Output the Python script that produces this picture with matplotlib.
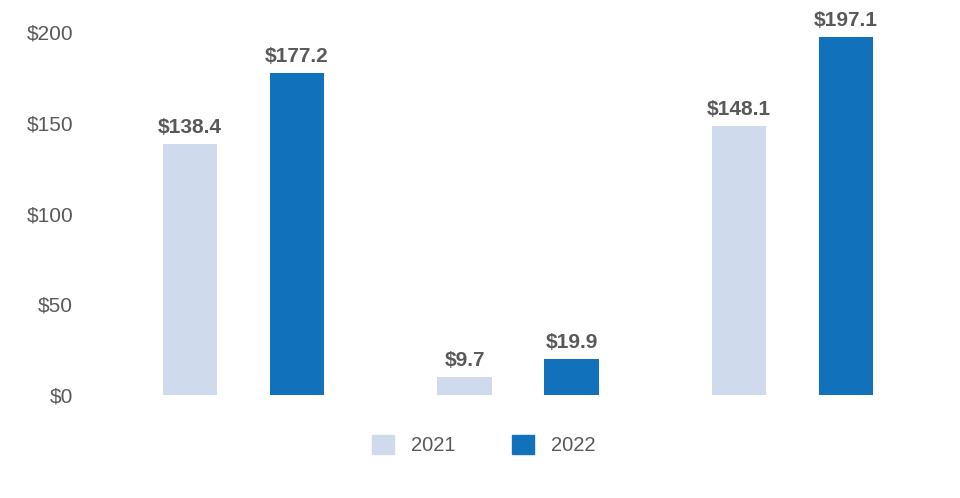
import numpy as np
import matplotlib.pyplot as plt
from matplotlib.patches import Patch

plt.rcParams['font.family'] = ['Liberation Sans', 'DejaVu Sans']

years = ['2021', '2022']
vals_2021 = [138.4, 9.7, 148.1]
vals_2022 = [177.2, 19.9, 197.1]
yticks = [0, 50, 100, 150, 200]

c_light = '#cfdaec'
c_dark = '#1172bb'
txt = '#595959'

fig = plt.figure(figsize=(9.6, 4.98), dpi=100)
ax = fig.add_axes([80/960, 103/498, 875/960, 363/498])

x = np.arange(len(vals_2021))
w = 0.197
off = 0.195
b1 = ax.bar(x - off, vals_2021, w, color=c_light)
b2 = ax.bar(x + off, vals_2022, w, color=c_dark)

# value labels above each bar
for bars, vals in [(b1, vals_2021), (b2, vals_2022)]:
    for r, v in zip(bars, vals):
        ax.annotate(f'${v:.1f}', (r.get_x() + r.get_width()/2, v),
                    xytext=(0, 5), textcoords='offset points',
                    ha='center', va='bottom', fontsize=15, fontweight='bold',
                    color=txt, annotation_clip=False)

ax.set_xlim(-0.5956, 2.592)
ax.set_ylim(0, 200)
ax.set_yticks(yticks)
ax.set_yticklabels([f'${t}' for t in yticks], fontsize=15, color=txt)
ax.set_xticks([])
ax.tick_params(axis='y', length=0, pad=5)
for s in ax.spines.values():
    s.set_visible(False)

handles = [Patch(color=c_light), Patch(color=c_dark)]
leg = fig.legend(handles, years, loc='center', bbox_to_anchor=(484/960, 1 - 445/498),
                 ncol=2, frameon=False, fontsize=14.5, handlelength=1.1,
                 handleheight=1.1, handletextpad=0.85, columnspacing=2.8)
for t in leg.get_texts():
    t.set_color(txt)

fig.savefig('out.png', dpi=100)
